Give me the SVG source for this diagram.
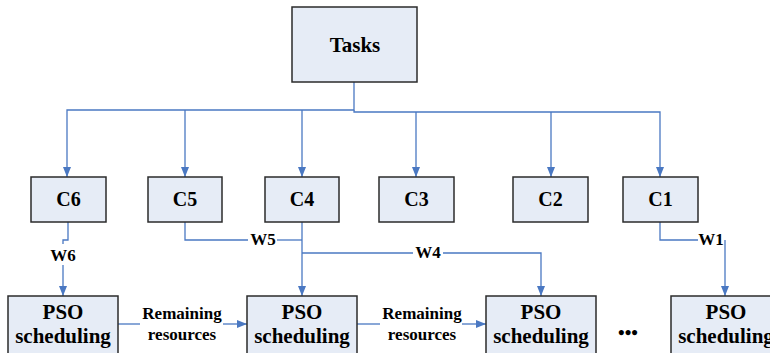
<svg xmlns="http://www.w3.org/2000/svg" width="770" height="353" viewBox="0 0 770 353">
<style>
.box{fill:#E6ECF6;stroke:#2b2b2b;stroke-width:1.5}
text{font-family:'Liberation Serif','Times New Roman',serif;font-weight:bold;fill:#000;text-anchor:middle}
.n{font-size:20px}
.p{font-size:21px}
.s{font-size:17px}
.ln{fill:none;stroke:#4A78C2;stroke-width:1.3}
</style>
<defs>
<marker id="ah" markerUnits="userSpaceOnUse" markerWidth="10" markerHeight="10" refX="10" refY="4" orient="auto">
<path d="M0,0 L10,4 L0,8 z" fill="#4A78C2"/>
</marker>
</defs>
<rect width="770" height="353" fill="#fff"/>
<g id="connectors">
<path class="ln" d="M354,82 V110 H67 V177" marker-end="url(#ah)"/>
<path class="ln" d="M185,110 V177" marker-end="url(#ah)"/>
<path class="ln" d="M302,110 V177" marker-end="url(#ah)"/>
<path class="ln" d="M354,110 V112 H660 V177" marker-end="url(#ah)"/>
<path class="ln" d="M416,112 V177" marker-end="url(#ah)"/>
<path class="ln" d="M551,112 V177" marker-end="url(#ah)"/>
<path class="ln" d="M68,222 V240 H63 V244"/>
<path class="ln" d="M63,265 V296" marker-end="url(#ah)"/>
<path class="ln" d="M185,222 V240 H248"/>
<path class="ln" d="M277,240 H302"/>
<path class="ln" d="M302,222 V296" marker-end="url(#ah)"/>
<path class="ln" d="M302,253 H413"/>
<path class="ln" d="M443,253 H541 V296" marker-end="url(#ah)"/>
<path class="ln" d="M660,222 V240 H698"/>
<path class="ln" d="M725,240 V296" marker-end="url(#ah)"/>
<path class="ln" d="M118,324 H140"/>
<path class="ln" d="M223,324 H247" marker-end="url(#ah)"/>
<path class="ln" d="M357,324 H380"/>
<path class="ln" d="M462,324 H486" marker-end="url(#ah)"/>
<text class="s" x="63" y="261">W6</text>
<text class="s" x="263" y="245">W5</text>
<text class="s" x="428" y="258">W4</text>
<text class="s" x="711" y="245">W1</text>
<text class="s" x="182" y="319">Remaining</text>
<text class="s" x="182" y="340">resources</text>
<text class="s" x="422" y="319">Remaining</text>
<text class="s" x="422" y="340">resources</text>
</g>
<g id="tasks"><rect class="box" x="292" y="7" width="125" height="75"/><text class="p" x="355" y="52">Tasks</text></g>
<g id="c6"><rect class="box" x="31" y="177" width="75" height="45"/><text class="n" x="68.5" y="206">C6</text></g>
<g id="c5"><rect class="box" x="148" y="177" width="74" height="45"/><text class="n" x="185" y="206">C5</text></g>
<g id="c4"><rect class="box" x="265" y="177" width="74" height="45"/><text class="n" x="302" y="206">C4</text></g>
<g id="c3"><rect class="box" x="379" y="177" width="75" height="45"/><text class="n" x="416.5" y="206">C3</text></g>
<g id="c2"><rect class="box" x="513" y="177" width="75" height="45"/><text class="n" x="550.5" y="206">C2</text></g>
<g id="c1"><rect class="box" x="623" y="177" width="75" height="45"/><text class="n" x="660.5" y="206">C1</text></g>
<g id="pso1"><rect class="box" x="8" y="296" width="110" height="70"/><text class="p" x="63" y="319">PSO</text><text class="p" x="63" y="343">scheduling</text></g>
<g id="pso2"><rect class="box" x="247" y="296" width="110" height="70"/><text class="p" x="302" y="319">PSO</text><text class="p" x="302" y="343">scheduling</text></g>
<g id="pso3"><rect class="box" x="486" y="296" width="110" height="70"/><text class="p" x="541" y="319">PSO</text><text class="p" x="541" y="343">scheduling</text></g>
<g id="pso4"><rect class="box" x="671" y="296" width="110" height="70"/><text class="p" x="726" y="319">PSO</text><text class="p" x="726" y="343">scheduling</text></g>
<g id="ellipsis"><text style="font-size:19px" x="628" y="339">•••</text></g>
</svg>
